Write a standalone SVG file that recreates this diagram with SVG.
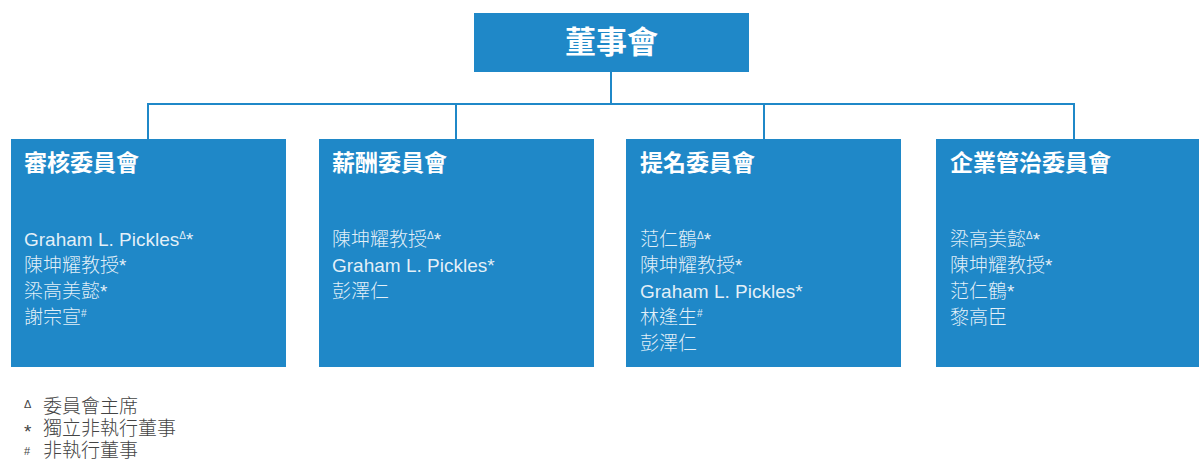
<svg xmlns="http://www.w3.org/2000/svg" width="1199" height="459" viewBox="0 0 1199 459">
<style>
.box{fill:#1f88c8}
.conn{stroke:#1f88c8;stroke-width:2;fill:none}
.top{font-family:"Liberation Sans","Noto Sans CJK TC",sans-serif;font-size:31px;font-weight:bold;fill:#fff}
.ttl{font-family:"Liberation Sans","Noto Sans CJK TC",sans-serif;font-size:23px;font-weight:bold;fill:#fff}
.mem{font-family:"Liberation Sans","Noto Sans CJK TC",sans-serif;font-size:19px;font-weight:300;fill:#fff;fill-opacity:0.88}
.sup{font-size:10px}
.leg{font-family:"Liberation Sans","Noto Sans CJK TC",sans-serif;font-size:19px;font-weight:300;fill:#444}
.legs{font-family:"Liberation Sans","Noto Sans CJK TC",sans-serif;font-size:11px;fill:#444}
</style>
<g id="connectors">
<path class="conn" d="M611 72V104M147 104H1075M148 103V139M456 103V139M764 103V139M1074 103V139"/>
</g>
<g id="board">
<rect class="box" x="474" y="13" width="275" height="59"/>
<text class="top" x="611.5" y="53" text-anchor="middle">董事會</text>
</g>
<g id="audit">
<rect class="box" x="11" y="139" width="275" height="228"/>
<text class="ttl" x="24" y="171">審核委員會</text>
<text class="mem" x="24" y="246">Graham L. Pickles<tspan class="sup" dy="-7">Δ</tspan><tspan dy="7">*</tspan></text>
<text class="mem" x="24" y="272">陳坤耀教授*</text>
<text class="mem" x="24" y="298">梁高美懿*</text>
<text class="mem" x="24" y="324">謝宗宣<tspan class="sup" dy="-7">#</tspan></text>
</g>
<g id="remuneration">
<rect class="box" x="319" y="139" width="275" height="228"/>
<text class="ttl" x="332" y="171">薪酬委員會</text>
<text class="mem" x="332" y="246">陳坤耀教授<tspan class="sup" dy="-7">Δ</tspan><tspan dy="7">*</tspan></text>
<text class="mem" x="332" y="272">Graham L. Pickles*</text>
<text class="mem" x="332" y="298">彭澤仁</text>
</g>
<g id="nomination">
<rect class="box" x="626" y="139" width="275" height="228"/>
<text class="ttl" x="640" y="171">提名委員會</text>
<text class="mem" x="640" y="246">范仁鶴<tspan class="sup" dy="-7">Δ</tspan><tspan dy="7">*</tspan></text>
<text class="mem" x="640" y="272">陳坤耀教授*</text>
<text class="mem" x="640" y="298">Graham L. Pickles*</text>
<text class="mem" x="640" y="324">林逢生<tspan class="sup" dy="-7">#</tspan></text>
<text class="mem" x="640" y="350">彭澤仁</text>
</g>
<g id="governance">
<rect class="box" x="936" y="139" width="275" height="228"/>
<text class="ttl" x="950" y="171">企業管治委員會</text>
<text class="mem" x="950" y="246">梁高美懿<tspan class="sup" dy="-7">Δ</tspan><tspan dy="7">*</tspan></text>
<text class="mem" x="950" y="272">陳坤耀教授*</text>
<text class="mem" x="950" y="298">范仁鶴*</text>
<text class="mem" x="950" y="324">黎高臣</text>
</g>
<g id="legend">
<text class="legs" x="24" y="408">Δ</text>
<text class="leg" x="43" y="413">委員會主席</text>
<text class="leg" x="24" y="438">*</text>
<text class="leg" x="43" y="435">獨立非執行董事</text>
<text class="legs" x="24" y="455">#</text>
<text class="leg" x="43" y="457">非執行董事</text>
</g>
</svg>
